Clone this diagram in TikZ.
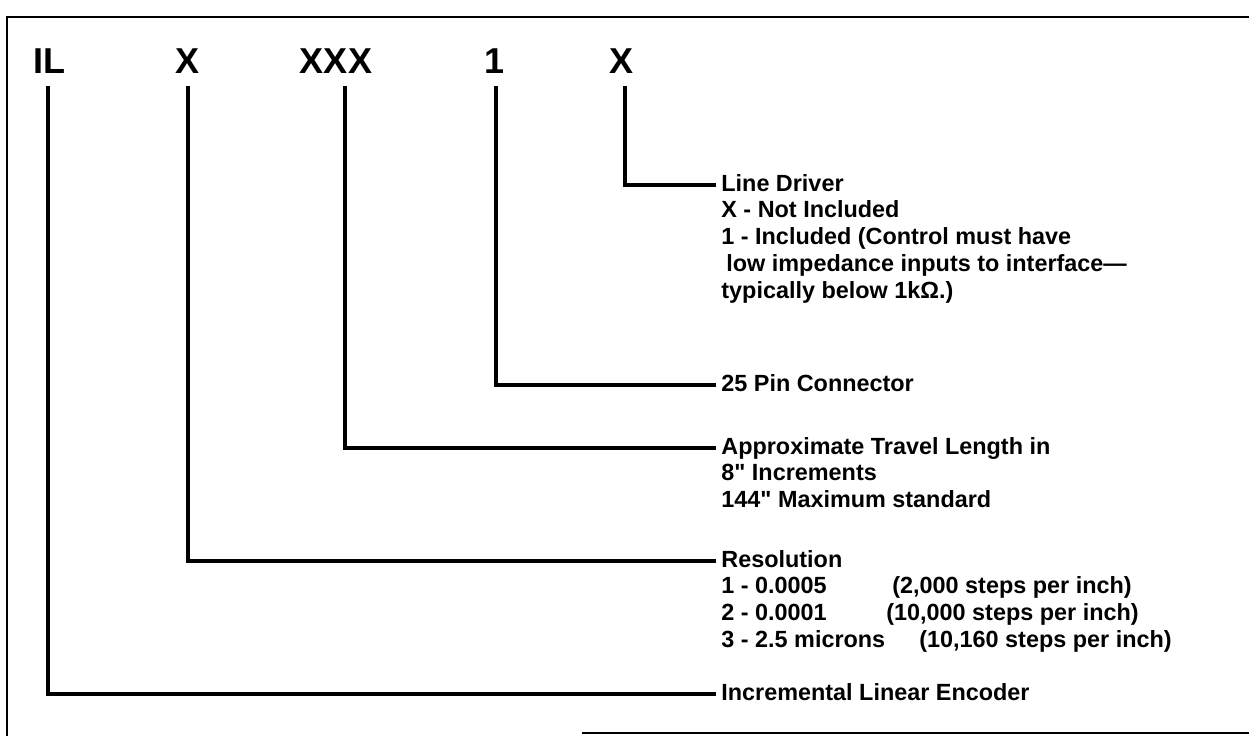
\documentclass[tikz,border=0pt]{standalone}
\usepackage{fontspec}
\setmainfont{Liberation Sans}

\begin{document}
\begin{tikzpicture}[x=0.5pt, y=-0.5pt]
    \tikzset{
        frame line/.style={line width=1.2pt},
        lead/.style={line width=2.2pt},
        code letter/.style={font=\fontsize{18}{20}\selectfont\bfseries, inner sep=0pt, anchor=base},
        spec text/.style={font=\fontsize{11.7}{13.4}\selectfont\bfseries, inner sep=0pt, anchor=base west}
    }
    \useasboundingbox (0,0) rectangle (1249,736);

    % frame
    \draw[frame line] (1249,17) -- (7,17) -- (7,736);
    \draw[frame line] (582,733) -- (1249,733);

    % order code
    \node[code letter] (hdIL) at (49,73) {IL};
    \node[code letter] (hdRes) at (188,73) {X};
    \node[code letter] (hdLen) at (336,73) {XXX};
    \node[code letter] (hdPin) at (495,73) {1};
    \node[code letter] (hdDrv) at (622,73) {X};

    % where the leads end
    \coordinate (eDrv) at (716,185);
    \coordinate (ePin) at (716,385);
    \coordinate (eLen) at (716,448);
    \coordinate (eRes) at (716,561);
    \coordinate (eEnc) at (716,694);

    % descriptions
    \node[spec text] (drv) at (721,191) {\begin{tabular}[t]{@{}l@{}}
        Line Driver\\
        X - Not Included\\
        1 - Included (Control must have\\
        \hspace{2.5pt}low impedance inputs to interface—\\
        typically below 1kΩ.)
    \end{tabular}};
    \node[spec text] (pin) at (721,391) {25 Pin Connector};
    \node[spec text] (len) at (721,454) {\begin{tabular}[t]{@{}l@{}}
        Approximate Travel Length in\\
        8\textquotedbl{} Increments\\
        144\textquotedbl{} Maximum standard
    \end{tabular}};
    \node[spec text] (res) at (721,567) {\begin{tabular}[t]{@{}l@{}}
        Resolution\\
        \makebox[85.5pt][l]{1 - 0.0005}(2,000 steps per inch)\\
        \makebox[82.5pt][l]{2 - 0.0001}(10,000 steps per inch)\\
        \makebox[99pt][l]{3 - 2.5 microns}(10,160 steps per inch)
    \end{tabular}};
    \node[spec text] (enc) at (721,700) {Incremental Linear Encoder};

    % leads
    \draw[lead] ([xshift=1.5pt,yshift=-6.5pt]hdDrv.south) |- (eDrv);
    \draw[lead] ([xshift=0.5pt,yshift=-6.5pt]hdPin.south) |- (ePin);
    \draw[lead] ([xshift=4.5pt,yshift=-6.5pt]hdLen.south) |- (eLen);
    \draw[lead] ([yshift=-6.5pt]hdRes.south) |- (eRes);
    \draw[lead] ([xshift=-0.5pt,yshift=-6.5pt]hdIL.south) |- (eEnc);
\end{tikzpicture}
\end{document}
